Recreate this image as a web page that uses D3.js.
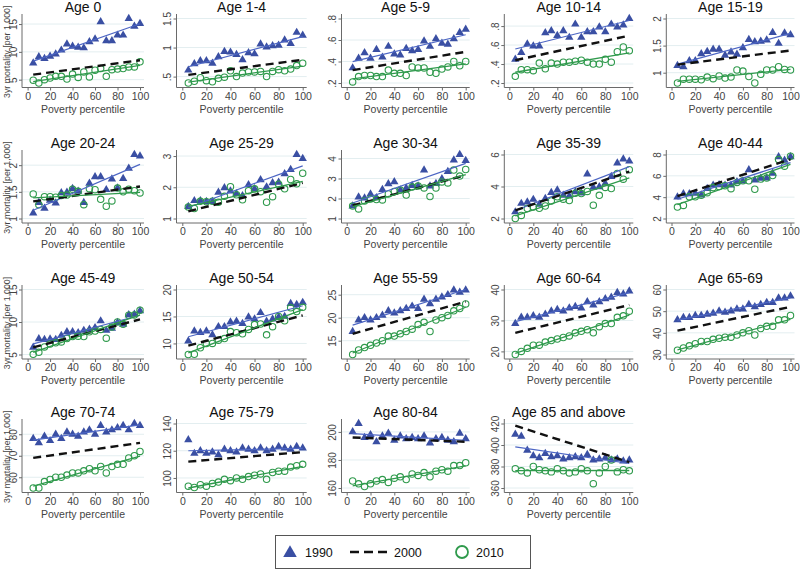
<!DOCTYPE html>
<html><head><meta charset="utf-8">
<script src="https://cdnjs.cloudflare.com/ajax/libs/d3/7.8.5/d3.min.js"></script>
<style>body{margin:0;background:#fff;font-family:"Liberation Sans",Arial,sans-serif}</style>
</head><body><svg id="c" width="800" height="570"></svg>
<script>
const panels = ["Age 0","Age 1-4","Age 5-9","Age 10-14","Age 15-19","Age 20-24","Age 25-29","Age 30-34","Age 35-39","Age 40-44","Age 45-49","Age 50-54","Age 55-59","Age 60-64","Age 65-69","Age 70-74","Age 75-79","Age 80-84","Age 85 and above"];
const percentiles = [5,10,15,20,25,30,35,40,45,50,55,60,65,70,75,80,85,90,95,100];
const xTicks = [0,20,40,60,80,100];
const yTicks = [[5,10,15],[0.5,1,1.5],[0.2,0.4,0.6,0.8],[0.2,0.4,0.6,0.8],[1,1.5,2],[1,1.5,2],[1,2,3],[1,2,3,4],[2,4,6],[2,4,6,8],[5,10,15],[10,15,20],[15,20,25],[20,30,40],[30,40,50,60],[60,70,80],[100,120,140],[160,180,200],[360,380,400,420]];
const series1990 = [
 [8.0,9.1,8.8,9.2,9.6,10.3,11.4,11.0,10.8,10.7,11.8,12.3,15.4,12.0,12.0,13.0,13.0,16.0,14.6,15.1],
 [0.61,0.72,0.77,0.77,0.73,0.84,0.93,0.92,0.88,0.79,0.91,0.89,1.06,1.01,1.03,1.04,1.13,1.07,1.26,1.21],
 [0.34,0.43,0.48,0.43,0.51,0.44,0.54,0.47,0.46,0.52,0.50,0.51,0.59,0.54,0.61,0.57,0.56,0.61,0.67,0.70],
 [0.45,0.52,0.61,0.59,0.59,0.73,0.75,0.70,0.75,0.68,0.82,0.68,0.74,0.74,0.79,0.74,0.82,0.79,0.81,0.88],
 [1.13,1.11,1.22,1.22,1.35,1.39,1.43,1.43,1.32,1.38,1.34,1.46,1.61,1.57,1.58,1.60,1.74,1.54,1.73,1.70],
 [1.10,1.30,1.19,1.34,1.29,1.48,1.49,1.56,1.51,1.30,1.66,1.78,1.78,1.54,1.74,1.57,1.75,1.94,2.20,2.17],
 [1.38,1.57,1.57,1.54,1.54,1.84,1.98,1.88,1.79,1.73,2.08,1.95,2.24,2.01,2.14,2.16,2.43,2.57,3.05,2.92],
 [1.62,2.07,2.02,2.22,2.03,2.45,2.73,2.83,2.42,2.52,2.65,2.62,3.42,2.62,2.75,2.98,3.35,3.92,4.20,3.90],
 [2.41,2.94,3.02,3.19,2.88,3.24,3.62,3.77,3.45,3.41,3.66,3.58,4.78,3.94,3.98,4.19,4.62,5.46,5.72,5.58],
 [4.00,4.32,4.32,4.35,4.19,4.80,5.12,5.15,5.12,5.12,5.44,5.50,6.56,5.60,5.76,5.79,6.24,7.78,7.46,7.78],
 [6.11,7.41,7.31,7.36,7.31,7.93,8.50,8.50,8.34,8.70,8.86,9.12,10.16,8.70,9.02,9.90,9.64,11.09,11.19,11.71],
 [10.45,12.3,12.0,12.3,11.6,13.1,13.1,13.97,14.1,13.7,14.9,14.5,15.7,14.1,14.5,14.9,15.0,17.4,17.2,17.6],
 [17.0,19.5,20.0,19.5,20.0,20.5,21.5,21.0,21.5,22.0,22.5,22.0,24.0,23.0,24.0,24.5,25.0,26.0,25.5,26.0],
 [29,31,31,31.5,31,32,33,33.5,33,34,34.5,34,36,35,36,37,37.5,39,38.5,39.5],
 [46,47,47,48,48,48.5,49,50,49.5,50,51,51,53,52,53,54,54,56,56,57],
 [78,76,79,77,80,78,81,80,79,81,82,80,84,81,82,83,84,82,85,84],
 [128,118,120,118,119,117,121,120,119,122,121,120,122,120,121,123,122,121,123,122],
 [200,206,196,198,193,197,199,194,197,195,196,195,197,192,195,196,194,193,199,195],
 [410,408,395,390,388,392,389,390,387,388,389,388,391,386,387,388,386,387,385,386]
];
const series2010 = [
 [4.9,4.4,5.0,5.3,5.6,5.6,5.1,6.0,5.4,6.4,5.5,6.7,7.0,5.6,6.8,6.9,7.0,7.3,7.3,8.2],
 [0.39,0.42,0.48,0.43,0.41,0.47,0.49,0.60,0.50,0.56,0.58,0.58,0.59,0.50,0.59,0.62,0.60,0.63,0.69,0.73],
 [0.21,0.26,0.27,0.27,0.26,0.26,0.32,0.29,0.29,0.27,0.35,0.34,0.34,0.30,0.29,0.33,0.35,0.40,0.36,0.40],
 [0.27,0.34,0.34,0.33,0.41,0.35,0.41,0.40,0.42,0.42,0.43,0.44,0.42,0.40,0.40,0.45,0.42,0.53,0.58,0.54],
 [0.81,0.88,0.88,0.88,0.87,0.92,0.89,0.94,0.90,0.92,1.05,1.03,0.93,0.81,0.97,1.05,1.05,1.11,1.06,1.05],
 [1.46,1.26,1.41,1.41,1.40,1.43,1.44,1.55,1.51,1.26,1.56,1.54,1.36,1.23,1.33,1.57,1.50,1.55,1.52,1.48],
 [1.37,1.32,1.55,1.54,1.55,1.52,1.71,2.02,1.76,1.60,1.89,1.95,1.86,1.52,1.70,2.10,1.95,2.25,2.11,2.45],
 [1.62,1.48,1.88,1.98,1.95,1.93,2.23,2.35,2.42,2.17,2.57,2.62,2.53,2.10,2.52,2.83,2.78,3.42,3.12,3.45],
 [2.00,2.19,2.62,2.72,2.64,2.78,3.10,3.36,3.21,3.12,3.58,3.56,3.69,2.83,3.45,3.94,3.87,4.82,4.46,5.05],
 [3.07,3.23,4.03,4.03,4.19,4.42,4.90,5.00,5.06,4.80,5.38,5.54,5.54,4.74,5.70,5.79,6.02,7.52,6.91,7.84],
 [5.03,5.34,6.17,6.63,6.79,6.94,7.46,7.77,7.82,7.77,8.50,8.60,8.86,7.51,9.22,10.0,9.64,11.04,11.09,11.81],
 [7.95,8.0,9.2,10.0,10.0,10.6,10.9,12.2,12.0,11.8,12.6,13.5,13.6,11.6,13.1,15.0,14.2,16.6,15.9,16.7],
 [12.0,13.0,13.5,14.0,14.5,15.0,16.0,16.0,16.5,17.0,17.5,18.5,19.0,17.0,19.5,20.0,20.5,21.5,22.0,23.0],
 [19,20,21,22,22,23,23.5,24,24.5,25,26,26.5,27,26,28,29,29,31,31.5,33],
 [32,33,34,35,36,36,37,37.5,38,38,39,40,41,39,42,43,43,46,46,48],
 [55,55,58,59,60,60,61,62,62,63,64,63,65,62,65,66,66,69,70,72],
 [94,93,95,94,96,97,99,98,100,99,101,102,103,99,104,105,105,108,109,110],
 [165,163,161,163,165,166,164,167,168,166,170,169,171,168,172,173,172,176,176,178],
 [378,376,374,380,377,376,375,378,376,374,375,378,376,364,374,380,386,375,377,376]
];
// 2000 fitted line: value at percentile 5 and at percentile 100
const fit2000 = [[5.9,8.5],[0.53,0.79],[0.32,0.49],[0.44,0.70],[1.15,1.41],[1.32,1.60],[1.23,2.14],[1.65,3.17],[2.51,4.93],[4.10,7.55],[6.1,10.4],[9.6,15.2],[16.5,23.5],[26,35],[41,52],[69,76],[112,119],[196,193],[418,384]];
const legendLabels = ["1990","2000","2010"];

const BLUE = "#3a4fa3", BLUE_LINE = "#4d66c4", GREEN = "#2f9a4c";
const svg = d3.select("#c");
const colAxis = [22, 176.5, 341.5, 504.3, 666.3];
const colX0 = [27.6, 182.3, 346.7, 509.3, 671.5];
const colX1 = [140, 302.7, 465.7, 629.3, 790.5];
const rowTop = [14, 150, 285, 419];
const rowBot = [87.5, 223, 359, 492.5];
const fmt = v => { let s = String(v); if (s.startsWith("0.")) s = s.slice(1); return s; };
function lfit(xs, ys){
  const mx = d3.mean(xs), my = d3.mean(ys);
  const b = d3.sum(xs, (x,i)=>(x-mx)*(ys[i]-my)) / d3.sum(xs, x=>(x-mx)*(x-mx));
  return x => my + b*(x-mx);
}

panels.forEach((name, i) => {
  const c = i % 5, r = Math.floor(i / 5);
  const left = colAxis[c], right = colX1[c] + 4, top = rowTop[r], bot = rowBot[r];
  const x = d3.scaleLinear().domain([0,100]).range([colX0[c], colX1[c]]);
  const f90 = lfit(percentiles, series1990[i]);
  const f10 = lfit(percentiles, series2010[i]);
  const allV = series1990[i].concat(series2010[i], fit2000[i], yTicks[i], [f90(5),f90(100),f10(5),f10(100)]);
  const y = d3.scaleLinear().domain(d3.extent(allV)).range([bot-4.5, top+4.5]);
  const g = svg.append("g");
  g.selectAll("line.grid").data(yTicks[i]).join("line")
    .attr("x1", left).attr("x2", right).attr("y1", d=>y(d)).attr("y2", d=>y(d))
    .attr("stroke", "#e3eef0").attr("stroke-width", 1);
  const yAx = d3.axisLeft(y).tickValues(yTicks[i]).tickFormat(fmt).tickSize(3).tickPadding(2);
  const ya = g.append("g").attr("transform", `translate(${left},0)`).call(yAx);
  ya.select(".domain").attr("d", `M0,${top}V${bot}`).attr("stroke", "#6a6a6a");
  ya.selectAll(".tick line").attr("stroke", "#6a6a6a");
  ya.selectAll(".tick text").attr("font-size", 10).attr("fill", "#444")
    .attr("font-family", "Liberation Sans, Arial, sans-serif")
    .attr("transform", "rotate(-90)").attr("x", 0).attr("y", -5.5).attr("dy", 0)
    .attr("text-anchor", "middle");
  const xAx = d3.axisBottom(x).tickValues(xTicks).tickSize(3).tickPadding(2);
  const xa = g.append("g").attr("transform", `translate(0,${bot})`).call(xAx);
  xa.select(".domain").attr("d", `M${left},0H${right}`).attr("stroke", "#6a6a6a");
  xa.selectAll(".tick line").attr("stroke", "#6a6a6a");
  xa.selectAll(".tick text").attr("font-size", 10.5).attr("fill", "#444")
    .attr("font-family", "Liberation Sans, Arial, sans-serif");
  g.append("text").attr("x", (left+right)/2).attr("y", bot+25).attr("text-anchor", "middle")
    .attr("font-size", 10.5).attr("fill", "#444").text("Poverty percentile");
  g.append("text").attr("x", (left+right)/2).attr("y", top-2.5).attr("text-anchor", "middle")
    .attr("font-size", 14).attr("fill", "#111").text(name);
  if (c === 0) {
    g.append("text").attr("transform", `translate(10,${(top+bot)/2 + 1}) rotate(-90)`)
      .attr("text-anchor", "middle").attr("font-size", 8.8).attr("fill", "#444")
      .text("3yr mortality [per 1,000]");
  }
  g.selectAll("path.tri").data(series1990[i]).join("path")
    .attr("d", d3.symbol(d3.symbolTriangle, 30))
    .attr("transform", (d,j)=>`translate(${x(percentiles[j])},${y(d)})`)
    .attr("fill", BLUE);
  g.selectAll("circle.o").data(series2010[i]).join("circle")
    .attr("cx", (d,j)=>x(percentiles[j])).attr("cy", d=>y(d)).attr("r", 3.2)
    .attr("fill", "none").attr("stroke", GREEN).attr("stroke-width", 1.1);
  g.append("line").attr("x1", x(5)).attr("x2", x(100)).attr("y1", y(f90(5))).attr("y2", y(f90(100)))
    .attr("stroke", BLUE_LINE).attr("stroke-width", 1.2);
  g.append("line").attr("x1", x(5)).attr("x2", x(100)).attr("y1", y(fit2000[i][0])).attr("y2", y(fit2000[i][1]))
    .attr("stroke", "#111").attr("stroke-width", 2.4).attr("stroke-dasharray", "8,5");
  g.append("line").attr("x1", x(5)).attr("x2", x(100)).attr("y1", y(f10(5))).attr("y2", y(f10(100)))
    .attr("stroke", GREEN).attr("stroke-width", 1.3);
});

const lg = svg.append("g");
lg.append("rect").attr("x", 275.5).attr("y", 535.5).attr("width", 255).attr("height", 33)
  .attr("fill", "#fff").attr("stroke", "#555").attr("stroke-width", 1);
lg.append("path").attr("d", d3.symbol(d3.symbolTriangle, 80)).attr("transform", "translate(290,553)").attr("fill", BLUE);
lg.append("text").attr("x", 305).attr("y", 557).attr("font-size", 12.5).attr("fill", "#111").text(legendLabels[0]);
lg.append("line").attr("x1", 350).attr("x2", 388).attr("y1", 552).attr("y2", 552)
  .attr("stroke", "#111").attr("stroke-width", 2.6).attr("stroke-dasharray", "9,5");
lg.append("text").attr("x", 394).attr("y", 557).attr("font-size", 12.5).attr("fill", "#111").text(legendLabels[1]);
lg.append("circle").attr("cx", 462).attr("cy", 552).attr("r", 6).attr("fill", "none").attr("stroke", GREEN).attr("stroke-width", 1.8);
lg.append("text").attr("x", 476).attr("y", 557).attr("font-size", 12.5).attr("fill", "#111").text(legendLabels[2]);
</script></body></html>
